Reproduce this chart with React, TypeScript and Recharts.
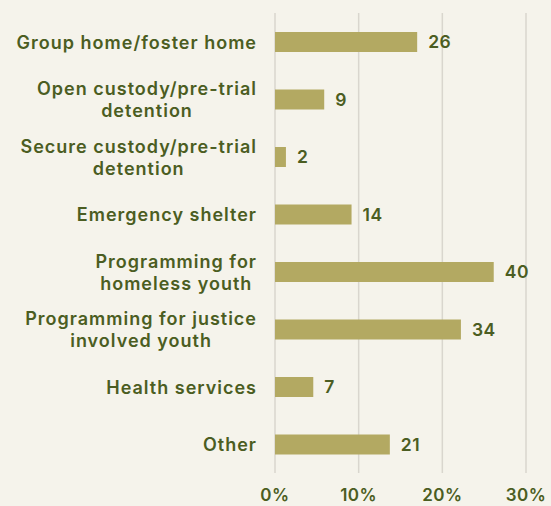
import React from 'react'
import { BarChart, Bar, XAxis, YAxis, CartesianGrid, LabelList } from 'recharts'

// categories, top to bottom (line breaks as in the picture)
const categories = [
  'Group home/foster home',
  'Open custody/pre-trial\ndetention',
  'Secure custody/pre-trial\ndetention',
  'Emergency shelter',
  'Programming for\nhomeless youth',
  'Programming for justice\ninvolved youth',
  'Health services',
  'Other',
]
const counts = [26, 9, 2, 14, 40, 34, 7, 21]
const xTicks = [0, 10, 20, 30]

const total = counts.reduce((a, b) => a + b, 0)
const data = categories.map((name, i) => ({
  name,
  count: counts[i],
  pct: (counts[i] / total) * 100,
}))

const TEXT = '#4b5d22'
const BAR = '#b3a962'
const BG = '#f5f3eb'
const FONT = 'Inter, sans-serif'
const CAT_SIZE = 18
const CAT_SPACING = 1

let ctx: CanvasRenderingContext2D | null = null
const measure = (s: string) => {
  if (!ctx) {
    ctx = document.createElement('canvas').getContext('2d')
  }
  if (!ctx) return s.length * CAT_SIZE * 0.6
  ctx.font = `600 ${CAT_SIZE}px Inter`
  return ctx.measureText(s).width + s.length * CAT_SPACING
}

// lines are centred on each other, the block is right-aligned
const CategoryTick = (props: any) => {
  const { x, y, payload } = props
  const lines = String(payload.value).split('\n')
  const lh = 22
  const start = y - ((lines.length - 1) * lh) / 2
  const maxW = Math.max(...lines.map(measure))
  const cx = x - maxW / 2
  return (
    <text
      x={cx}
      y={start}
      textAnchor="middle"
      dominantBaseline="central"
      fill={TEXT}
      fontSize={CAT_SIZE}
      fontWeight={600}
      fontFamily={FONT}
      letterSpacing={CAT_SPACING}
    >
      {lines.map((l, i) => (
        <tspan key={i} x={cx} y={start + i * lh}>
          {l}
        </tspan>
      ))}
    </text>
  )
}

export default function App() {
  return (
    <div style={{ position: 'absolute', left: 0, top: 0, width: 551, height: 506, background: BG }}>
      <BarChart
        width={551}
        height={506}
        data={data}
        layout="vertical"
        margin={{ top: 13, right: 25, bottom: 0, left: 0 }}
      >
        <CartesianGrid horizontal={false} stroke="#d9d6ce" strokeWidth={1.5} />
        <XAxis
          type="number"
          domain={[0, 30]}
          ticks={xTicks}
          tickFormatter={(v) => `${v}%`}
          axisLine={false}
          tickLine={false}
          height={33}
          tickMargin={10}
          interval={0}
          tick={{ fill: TEXT, fontSize: 17, fontWeight: 600, fontFamily: FONT, letterSpacing: 0.5 }}
        />
        <YAxis
          type="category"
          dataKey="name"
          width={275}
          axisLine={false}
          tickLine={false}
          tickMargin={12}
          interval={0}
          tick={<CategoryTick />}
        />
        <Bar dataKey="pct" fill={BAR} barSize={20} isAnimationActive={false}>
          <LabelList
            dataKey="count"
            position="right"
            offset={11}
            fill={TEXT}
            fontSize={17.5}
            fontWeight={600}
            fontFamily={FONT}
            letterSpacing={0.5}
          />
        </Bar>
      </BarChart>
    </div>
  )
}
